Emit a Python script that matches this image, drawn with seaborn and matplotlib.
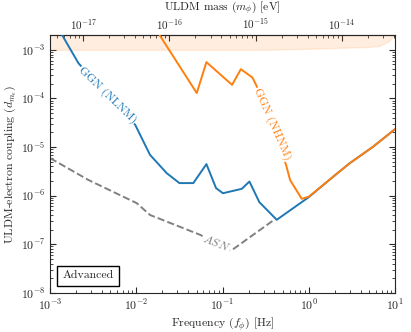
import numpy as np
import matplotlib
matplotlib.use("Agg")
import matplotlib.pyplot as plt
import seaborn as sns
from matplotlib.offsetbox import AnchoredText
from matplotlib.ticker import NullFormatter

# ==============================
# Data
# ==============================
nlnm_f = [1.3e-3, 2.13e-3, 9.7e-3, 1.44e-2, 2.25e-2, 3.16e-2, 4.58e-2, 6.5e-2,
          8.4e-2, 0.101, 0.167, 0.205, 0.267, 0.425, 1.0, 2.0, 3.0, 5.6, 10.0]
nlnm_d = [2.4e-3, 5.3e-4, 2.86e-5, 6.9e-6, 2.9e-6, 1.81e-6, 1.81e-6, 4.45e-6,
          1.43e-6, 1.12e-6, 1.38e-6, 1.95e-6, 7.35e-7, 3.18e-7, 9.3e-7,
          2.6e-6, 4.67e-6, 1.02e-5, 2.33e-5]

nhnm_f = [1.8e-2, 5.02e-2, 6.5e-2, 0.129, 0.163, 0.222, 0.25, 0.365, 0.545,
          0.607, 0.828, 1.0, 2.0, 3.0, 5.6, 10.0]
nhnm_d = [2.2e-3, 1.29e-4, 5.58e-4, 1.9e-4, 4.0e-4, 2.69e-4, 1.76e-4, 2.9e-5,
          4.3e-6, 2.1e-6, 8.6e-7, 9.5e-7, 2.6e-6, 4.67e-6, 1.02e-5, 2.33e-5]

asn_f = [1e-3, 2.78e-3, 1.01e-2, 1.44e-2, 5.5e-2, 0.12, 0.13, 0.406]
asn_d = [5.9e-6, 2.1e-6, 7.0e-7, 4.0e-7, 1.56e-7, 7.6e-8, 7.7e-8, 3.28e-7]

band_f = [1e-3, 0.3, 1.0, 5.0, 6.5, 8.5, 10.0]
band_lo = [1e-3, 1e-3, 1.05e-3, 1.15e-3, 1.2e-3, 1.5e-3, 2.2e-3]

mass_ticks = [1e-17, 1e-16, 1e-15, 1e-14]
h_evs = 4.1357e-15  # eV s

# ==============================
# Style
# ==============================
sns.set_style("ticks")
plt.rcParams["font.family"] = ["cmr10", "DejaVu Serif"]
plt.rcParams["mathtext.fontset"] = "cm"
plt.rcParams["axes.formatter.use_mathtext"] = True
plt.rcParams["font.size"] = 8.5
plt.rcParams["axes.unicode_minus"] = False

fig, ax = plt.subplots(figsize=(4.11, 3.32), dpi=100)
fig.subplots_adjust(left=0.122, right=0.961, bottom=0.118, top=0.894)

ax.fill_between(band_f, band_lo, 1.0, color="#ff7f0e", alpha=0.13, lw=1, zorder=1)

sns.lineplot(x=asn_f, y=asn_d, ax=ax, color="gray", ls="--", lw=1.4,
             estimator=None, sort=False, zorder=2)
sns.lineplot(x=nlnm_f, y=nlnm_d, ax=ax, color="#1f77b4", lw=1.4,
             estimator=None, sort=False, zorder=3)
sns.lineplot(x=nhnm_f, y=nhnm_d, ax=ax, color="#ff7f0e", lw=1.4,
             estimator=None, sort=False, zorder=4)

ax.set_xscale("log")
ax.set_yscale("log")
ax.set_xlim(1e-3, 10)
ax.set_ylim(1e-8, 2.0e-3)

box = dict(facecolor="white", edgecolor="none", pad=0.5)
ax.text(4.6e-3, 1.15e-4, "GGN (NLNM)", color="#1f77b4", rotation=-44,
        ha="center", va="center", fontsize=8.5, bbox=box, zorder=5)
ax.text(0.37, 2.9e-5, "GGN (NHNM)", color="#ff7f0e", rotation=-66,
        ha="center", va="center", fontsize=8.5, bbox=box, zorder=5)
ax.text(0.085, 1.05e-7, r"$ASN$", color="gray", rotation=-22,
        ha="center", va="center", fontsize=8.5, bbox=box, zorder=5)

at = AnchoredText("Advanced", loc="lower left", prop=dict(size=8.5),
                  frameon=True, borderpad=0.6, pad=0.45)
at.patch.set_boxstyle("square,pad=0")
at.patch.set_linewidth(1.0)
ax.add_artist(at)

ax.set_xlabel(r"Frequency $(f_\phi)$ [Hz]", labelpad=2)
ax.set_ylabel(r"ULDM-electron coupling $(d_{m_e})$", labelpad=2)
ax.tick_params(which="both", direction="in", top=False, right=True)
ax.tick_params(which="major", length=4)
ax.tick_params(which="minor", length=2)

sec = ax.secondary_xaxis("top", functions=(lambda f: f * h_evs,
                                           lambda m: m / h_evs))
sec.set_xticks(mass_ticks)
sec.xaxis.set_minor_formatter(NullFormatter())
sec.set_xlabel(r"ULDM mass $(m_\phi)$ [eV]", labelpad=5, fontsize=8.3)
sec.tick_params(which="both", direction="in", pad=2, labelsize=8)
sec.tick_params(which="major", length=4)
sec.tick_params(which="minor", length=2)

plt.savefig("out.png", dpi=100)
plt.close()
